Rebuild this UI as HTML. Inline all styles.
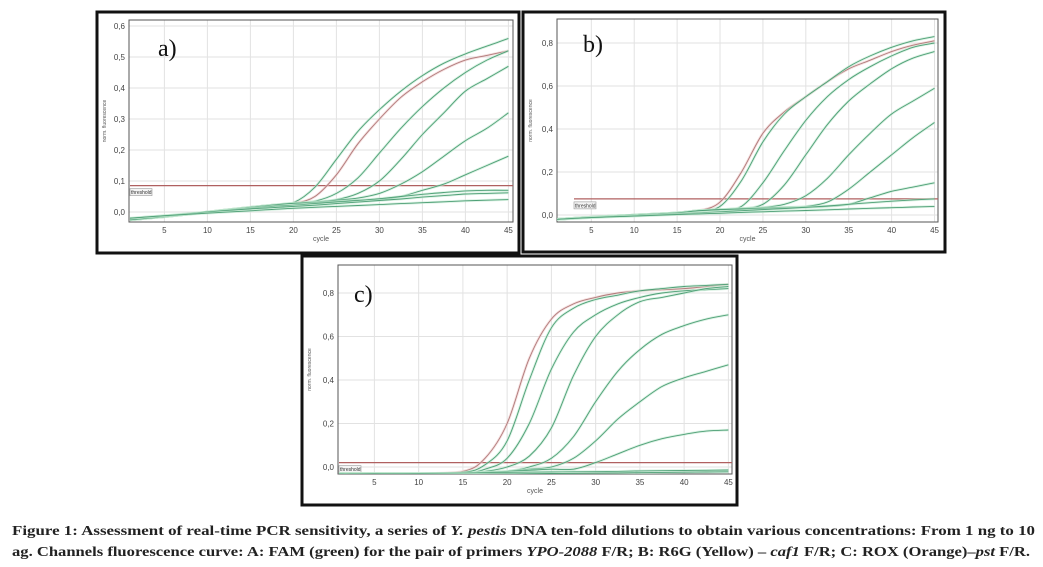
<!DOCTYPE html>
<html><head><meta charset="utf-8">
<style>
html,body{margin:0;padding:0;background:#fff;}
svg{display:block;font-family:"Liberation Sans",sans-serif;}
</style></head>
<body>
<svg id="fig" width="1043" height="567" viewBox="0 0 1043 567">
  <g id="panels"></g>
  <text x="12" y="535" textLength="1023" lengthAdjust="spacingAndGlyphs" font-family="'Liberation Serif',serif" font-weight="bold" font-size="13.5" fill="#222">Figure 1: Assessment of real-time PCR sensitivity, a series of <tspan font-style="italic">Y. pestis</tspan> DNA ten-fold dilutions to obtain various concentrations: From 1 ng to 10</text>
  <text x="12" y="556" textLength="1018" lengthAdjust="spacingAndGlyphs" font-family="'Liberation Serif',serif" font-weight="bold" font-size="13.5" fill="#222">ag. Channels fluorescence curve: A: FAM (green) for the pair of primers <tspan font-style="italic">YPO-2088</tspan> F/R; B: R6G (Yellow) – <tspan font-style="italic">caf1</tspan> F/R; C: ROX (Orange)–<tspan font-style="italic">pst</tspan> F/R.</text>
</svg>
<script>
// shared cycle samples
const cycles = [1,5,10,15,17.5,20,22.5,25,27.5,30,32.5,35,37.5,40,42.5,45];
const xTicks = [5,10,15,20,25,30,35,40,45];

// Panel a (FAM)
const aTicks = [0,0.1,0.2,0.3,0.4,0.5,0.6];
const aTickLabels = ["0,0","0,1","0,2","0,3","0,4","0,5","0,6"];
const aThreshold = 0.085;
const aSeries = [
 [-0.025,-0.015,0,0.015,0.022,0.03,0.08,0.17,0.26,0.33,0.39,0.44,0.48,0.51,0.535,0.56],
 [-0.025,-0.015,0,0.015,0.022,0.028,0.05,0.12,0.22,0.30,0.37,0.42,0.46,0.49,0.505,0.52],
 [-0.025,-0.015,0,0.015,0.022,0.028,0.035,0.06,0.11,0.19,0.27,0.34,0.40,0.45,0.49,0.52],
 [-0.025,-0.015,0,0.015,0.022,0.028,0.032,0.04,0.06,0.10,0.17,0.25,0.32,0.39,0.43,0.47],
 [-0.025,-0.015,0,0.015,0.022,0.028,0.032,0.038,0.045,0.06,0.09,0.13,0.18,0.23,0.27,0.32],
 [-0.025,-0.015,0,0.015,0.022,0.028,0.03,0.034,0.038,0.04,0.05,0.07,0.09,0.12,0.15,0.18],
 [-0.025,-0.015,0,0.012,0.018,0.022,0.027,0.032,0.037,0.043,0.05,0.057,0.063,0.068,0.07,0.07],
 [-0.02,-0.012,0,0.01,0.014,0.018,0.022,0.027,0.032,0.037,0.042,0.048,0.053,0.058,0.06,0.062],
 [-0.02,-0.012,-0.004,0.004,0.008,0.012,0.015,0.018,0.021,0.024,0.027,0.03,0.033,0.036,0.038,0.04]
];
const aRed = [1];

// Panel b (R6G)
const bTicks = [0,0.2,0.4,0.6,0.8];
const bTickLabels = ["0,0","0,2","0,4","0,6","0,8"];
const bThreshold = 0.075;
const bSeries = [
 [-0.02,-0.01,0,0.01,0.02,0.06,0.2,0.38,0.48,0.55,0.62,0.68,0.72,0.76,0.79,0.81],
 [-0.02,-0.01,0,0.01,0.02,0.04,0.16,0.34,0.47,0.55,0.62,0.69,0.74,0.78,0.81,0.83],
 [-0.02,-0.01,0,0.01,0.02,0.025,0.04,0.15,0.30,0.44,0.55,0.63,0.69,0.74,0.78,0.80],
 [-0.02,-0.01,0,0.01,0.02,0.025,0.03,0.05,0.14,0.28,0.42,0.53,0.61,0.68,0.73,0.76],
 [-0.02,-0.01,0,0.01,0.02,0.025,0.03,0.035,0.05,0.09,0.17,0.28,0.38,0.47,0.53,0.59],
 [-0.02,-0.01,0,0.01,0.02,0.025,0.03,0.033,0.036,0.04,0.06,0.12,0.20,0.28,0.36,0.43],
 [-0.02,-0.01,0,0.01,0.02,0.025,0.028,0.03,0.033,0.036,0.04,0.05,0.08,0.11,0.13,0.15],
 [-0.02,-0.012,-0.004,0.005,0.01,0.015,0.02,0.025,0.03,0.036,0.042,0.05,0.057,0.064,0.07,0.075],
 [-0.02,-0.012,-0.005,0.002,0.005,0.008,0.012,0.015,0.018,0.021,0.024,0.028,0.031,0.034,0.037,0.04]
];
const bRed = [0];

// Panel c (ROX)
const cTicks = [0,0.2,0.4,0.6,0.8];
const cTickLabels = ["0,0","0,2","0,4","0,6","0,8"];
const cThreshold = 0.02;
const cSeries = [
 [-0.03,-0.03,-0.03,-0.02,0.04,0.2,0.5,0.68,0.75,0.78,0.80,0.81,0.815,0.82,0.83,0.84],
 [-0.03,-0.03,-0.03,-0.025,0.01,0.12,0.4,0.64,0.73,0.77,0.79,0.81,0.82,0.83,0.835,0.84],
 [-0.03,-0.03,-0.03,-0.03,-0.01,0.04,0.2,0.45,0.62,0.70,0.75,0.78,0.80,0.81,0.815,0.82],
 [-0.03,-0.03,-0.03,-0.03,-0.02,0.0,0.05,0.18,0.42,0.60,0.70,0.76,0.78,0.80,0.82,0.83],
 [-0.03,-0.03,-0.03,-0.03,-0.025,-0.02,0.0,0.04,0.14,0.30,0.44,0.54,0.61,0.65,0.68,0.70],
 [-0.03,-0.03,-0.03,-0.03,-0.025,-0.02,-0.01,0.0,0.04,0.12,0.22,0.30,0.37,0.41,0.44,0.47],
 [-0.03,-0.03,-0.03,-0.03,-0.025,-0.02,-0.015,-0.01,-0.01,0.02,0.06,0.10,0.13,0.15,0.165,0.17],
 [-0.035,-0.032,-0.03,-0.028,-0.026,-0.025,-0.024,-0.023,-0.022,-0.021,-0.02,-0.018,-0.017,-0.016,-0.015,-0.014],
 [-0.04,-0.038,-0.036,-0.034,-0.033,-0.032,-0.031,-0.03,-0.029,-0.028,-0.027,-0.026,-0.025,-0.024,-0.023,-0.022]
];
const cRed = [0];

const NS = "http://www.w3.org/2000/svg";
function mk(parent, tag, attrs){
  const e = document.createElementNS(NS, tag);
  for (const k in attrs) e.setAttribute(k, attrs[k]);
  parent.appendChild(e);
  return e;
}
function smoothPath(pts){
  let d = "M" + pts[0][0].toFixed(1) + "," + pts[0][1].toFixed(1);
  for (let i=0;i<pts.length-1;i++){
    const p0 = pts[i-1]||pts[i], p1 = pts[i], p2 = pts[i+1], p3 = pts[i+2]||p2;
    const c1 = [p1[0]+(p2[0]-p0[0])/6, p1[1]+(p2[1]-p0[1])/6];
    const c2 = [p2[0]-(p3[0]-p1[0])/6, p2[1]-(p3[1]-p1[1])/6];
    d += " C"+c1[0].toFixed(1)+","+c1[1].toFixed(1)+" "+c2[0].toFixed(1)+","+c2[1].toFixed(1)+" "+p2[0].toFixed(1)+","+p2[1].toFixed(1);
  }
  return d;
}

function drawPanel(P){
  const root = document.getElementById("panels");
  const g = mk(root, "g", {});
  
  
  const frame = mk(g, "rect", {x:P.box[0], y:P.box[1], width:P.box[2]-P.box[0], height:P.box[3]-P.box[1], fill:"#fff", stroke:"#111", "stroke-width":3});
  
  
  const [L,T,R,B] = P.plot;
  const xs = c => P.x1 + (c - 1) * P.xStep;
  const ys = v => P.y0 - v * P.yPer;
  P.xt.forEach(c=>{
    const l = mk(g,"line",{x1:xs(c),x2:xs(c),y1:T,y2:B,stroke:"#e2e2e2","stroke-width":1});
    
    
    const t = mk(g,"text",{x:xs(c),y:B+11,"font-size":8,fill:"#444","text-anchor":"middle"});
    t.textContent = c;
    
    
  });
  P.yt.forEach((v,i)=>{
    const l = mk(g,"line",{x1:L,x2:R,y1:ys(v),y2:ys(v),stroke:"#e2e2e2","stroke-width":1});
    
    
    const t = mk(g,"text",{x:L-4,y:ys(v)+3,"font-size":8,fill:"#444","text-anchor":"end"});
    t.textContent = P.ytl[i];
    
    
  });
  const ax = mk(g,"rect",{x:L,y:T,width:R-L,height:B-T,fill:"none",stroke:"#555","stroke-width":1});
  
  
  const xl = mk(g,"text",{x:(L+R)/2,y:B+19,"font-size":7,fill:"#555","text-anchor":"middle"});
  xl.textContent = "cycle";
  
  
  const yx = P.box[0]+9, yy = (T+B)/2;
  const yl = mk(g,"text",{x:yx,y:yy,"font-size":5,fill:"#555","text-anchor":"middle",transform:"rotate(-90 "+yx+" "+yy+")"});
  yl.textContent = "norm. fluorescence";
  
  
  const cp = mk(g,"clipPath",{id:"clip"+P.id});
  mk(cp,"rect",{x:L,y:T,width:R-L,height:B-T});
  const cg = mk(g,"g",{"clip-path":"url(#clip"+P.id+")"});
  const th = mk(cg,"line",{x1:P.thStart,x2:R,y1:ys(P.th),y2:ys(P.th),stroke:"#b06060","stroke-width":1.3});
  
  
  const tb = mk(cg,"rect",{x:P.thStart,y:ys(P.th)+3,width:22,height:7,fill:"#f4f4f4",stroke:"#999","stroke-width":0.6});
  
  
  const tt = mk(cg,"text",{x:P.thStart+1,y:ys(P.th)+8.5,"font-size":5,fill:"#333"});
  tt.textContent = "threshold";
  
  
  P.series.forEach((s,i)=>{
    const pts = s.map((v,j)=>[xs(cycles[j]), ys(v)]);
    const d = smoothPath(pts);
    const red = P.red.indexOf(i) >= 0;
    const glow = mk(cg,"path",{d:d,fill:"none",stroke:red?"#efcaca":"#bfe8cf","stroke-width":2.6,opacity:0.6});
    
    
    const p = mk(cg,"path",{d:d,fill:"none",stroke:red?"#b07a7a":"#4e9f76","stroke-width":0.9});
    
    
  });
  const lab = mk(g,"text",{x:P.lab[0],y:P.lab[1],"font-size":24,"font-family":"'Liberation Serif',serif",fill:"#111"});
  lab.textContent = P.id + ")";
  
  
}

drawPanel({id:"a", box:[97,12,519,253], plot:[129,20,513,222], x1:130, xStep:8.6, y0:212, yPer:310,
  xt:xTicks, yt:aTicks, ytl:aTickLabels, th:aThreshold, thStart:130, series:aSeries, red:aRed, lab:[158,56]});
drawPanel({id:"b", box:[523,12,945,252], plot:[557,19,938,222], x1:557, xStep:8.58, y0:215, yPer:215,
  xt:xTicks, yt:bTicks, ytl:bTickLabels, th:bThreshold, thStart:574, series:bSeries, red:bRed, lab:[583,52]});
drawPanel({id:"c", box:[302,256,737,505], plot:[338,265,732,474], x1:339, xStep:8.85, y0:467, yPer:217.5,
  xt:xTicks, yt:cTicks, ytl:cTickLabels, th:cThreshold, thStart:339, series:cSeries, red:cRed, lab:[354,302]});
</script>
</body></html>
